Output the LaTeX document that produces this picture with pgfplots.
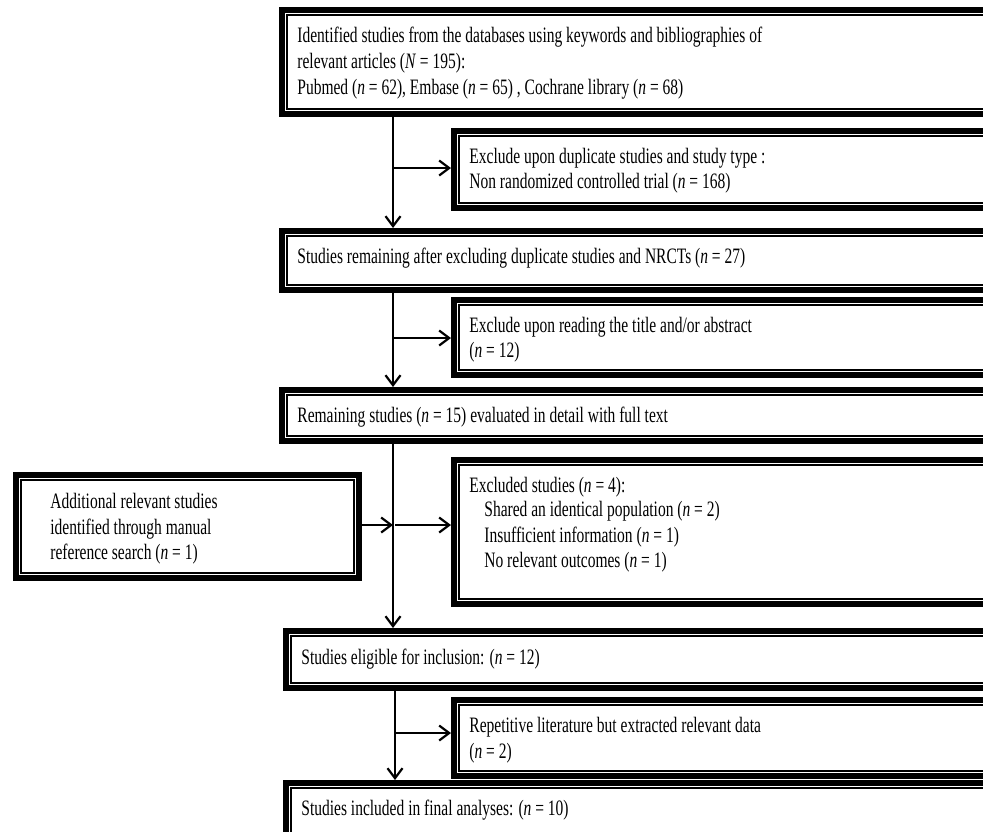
\documentclass[border=0pt]{standalone}
\usepackage{pgfplots}
\pgfplotsset{compat=1.18}
\usepackage{graphicx}
\usepackage{fontspec}
\setmainfont{Liberation Serif}
\usetikzlibrary{arrows.meta}

\newcommand{\hs}{0.705}
\newcommand{\flowbox}[4]{%
 \pgfmathsetmacro{\ax}{#1+3}\pgfmathsetmacro{\ay}{#2+3}%
 \pgfmathsetmacro{\bx}{#3-3}\pgfmathsetmacro{\by}{#4-3}%
 \addplot[draw=black, line width=3pt, fill=white, mark=none, forget plot] coordinates {(\ax,\ay) (\bx,\ay) (\bx,\by) (\ax,\by)} -- cycle;
 \pgfmathsetmacro{\cx}{#1+8}\pgfmathsetmacro{\cy}{#2+8}%
 \pgfmathsetmacro{\dx}{#3-8}\pgfmathsetmacro{\dy}{#4-8}%
 \addplot[draw=black, line width=0.75pt, mark=none, forget plot] coordinates {(\cx,\cy) (\dx,\cy) (\dx,\dy) (\cx,\dy)} -- cycle;
}
\newcommand{\T}[3]{\node[anchor=west, inner sep=0pt, text height=7.6pt, text depth=2.4pt, font=\fontsize{11}{13}\selectfont] at (axis cs:#1,#2) {\scalebox{\hs}[1]{#3}};}
\newcommand{\nn}{\textit{n}}
\tikzset{arr/.style={line width=1pt, mark=none, -{Straight Barb[length=5pt,width=7.5pt,line width=1.1pt]}}}

\begin{document}
\begin{tikzpicture}
\useasboundingbox (0,0) rectangle (491.5pt,415.5pt);
\begin{axis}[width=491.5pt, height=415.5pt, scale only axis, at={(0,0)}, anchor=south west,
  xmin=0, xmax=983, ymin=0, ymax=831, y dir=reverse, hide axis, clip=true]
% boxes
\flowbox{279}{7}{1010}{117}
\flowbox{451}{128}{1010}{211}
\flowbox{279}{228}{1010}{293}
\flowbox{451}{297}{1010}{378}
\flowbox{279}{387}{1010}{444}
\flowbox{451}{457}{1010}{607}
\flowbox{13}{472}{362}{581}
\flowbox{283}{628}{1010}{691}
\flowbox{451}{697}{1010}{779}
\flowbox{283}{780}{1010}{870}
% arrows
\addplot[arr] coordinates {(393,117) (393,228)};
\addplot[arr] coordinates {(393,168) (451,168)};
\addplot[arr] coordinates {(393,293) (393,387)};
\addplot[arr] coordinates {(393,338) (451,338)};
\addplot[arr] coordinates {(393,444) (393,628)};
\addplot[arr] coordinates {(362,525) (393,525)};
\addplot[arr] coordinates {(395,525) (451,525)};
\addplot[arr] coordinates {(395,691) (395,780)};
\addplot[arr] coordinates {(395,733) (451,733)};
% texts
\T{297}{37}{Identified studies from the databases using keywords and bibliographies of}
\T{297}{63}{relevant articles (\textit{N} = 195):}
\T{297}{89}{Pubmed (\nn{} = 62), Embase (\nn{} = 65) , Cochrane library (\nn{} = 68)}
\T{469}{158}{Exclude upon duplicate studies and study type :}
\T{469}{183}{Non randomized controlled trial (\nn{} = 168)}
\T{297}{258}{Studies remaining after excluding duplicate studies and NRCTs (\nn{} = 27)}
\T{469}{327}{Exclude upon reading the title and/or abstract}
\T{469}{352}{(\nn{} = 12)}
\T{297}{417}{Remaining studies (\nn{} = 15) evaluated in detail with full text}
\T{469}{487}{Excluded studies (\nn{} = 4):}
\T{484}{511}{Shared an identical population (\nn{} = 2)}
\T{484}{537}{Insufficient information (\nn{} = 1)}
\T{484}{562}{No relevant outcomes (\nn{} = 1)}
\T{50}{503}{Additional relevant studies}
\T{50}{529}{identified through manual}
\T{50}{554}{reference search (\nn{} = 1)}
\T{301}{659}{Studies eligible for inclusion: (\nn{} = 12)}
\T{469}{727}{Repetitive literature but extracted relevant data}
\T{469}{753}{(\nn{} = 2)}
\T{301}{810}{Studies included in final analyses: (\nn{} = 10)}
\end{axis}
\end{tikzpicture}
\end{document}
